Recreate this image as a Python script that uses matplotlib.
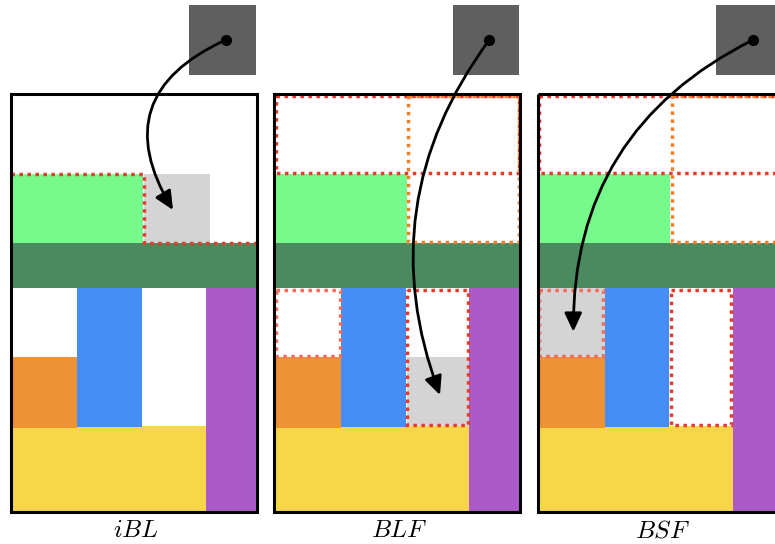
import matplotlib
matplotlib.use("Agg")
import matplotlib.pyplot as plt
from matplotlib.patches import Rectangle, FancyArrowPatch

plt.rcParams['mathtext.fontset'] = 'cm'

# --- data (bin-local units: x from bin left, y down from bin top) ---
panel_names = ["$iBL$", "$BLF$", "$BSF$"]
panel_left = [10.5, 274.2, 537.8]
bin_top = 94
bin_w, bin_h = 246, 418

# boxes already packed: yellow, orange, blue, purple, dark green, light green
box_x = [0, 0, 66.8, 195, 0, 0]
box_y = [332, 263, 194.3, 194.3, 149.3, 80]
box_w = [195, 66.8, 64.7, 51, 246, 132.5]
box_h = [86, 70.5, 138.7, 223.7, 45, 69.3]
box_colors = ["#F7D64A", "#EE9236", "#458EF6", "#AB5BC9", "#4B8A5E", "#76FA8B"]

# free spaces shown in BLF / BSF
free_x = [0, 132.5, 0, 131.5]
free_y = [0, 0, 194.3, 194.3]
free_w = [246, 113.5, 66.8, 63.5]
free_h = [80, 149.3, 68.7, 137.7]
free_colors = ["#E5392C", "#EE7F2D", "#F26B5B", "#E5392C"]

# skyline segment of iBL
sky_x = [0, 133, 133, 246]
sky_y = [80, 80, 149.3, 149.3]

# where the new item ends up in each panel
placed_x = [133, 132.5, 0]
placed_y = [80, 263, 194.3]
placed_w = [66, 62.5, 66.8]
placed_h = [69.3, 69, 68.7]

# incoming item and arrow
item_x, item_y, item_w, item_h = 178.5, -89, 66.5, 70
dot_x, dot_y = 215, -54
arrow_end_x = [162.5, 165.8, 35.5]
arrow_end_y = [116, 301, 237.7]
arrow_rad = [0.56, 0.27, 0.31]

dotted = (0, (1, 1.3))
inset = 1.5

fig = plt.figure(figsize=(7.75, 5.44), dpi=100)
ax = fig.add_axes([0, 0, 1, 1])
ax.set_xlim(0, 775)
ax.set_ylim(544, 0)
ax.axis('off')

for p, name in enumerate(panel_names):
    x0 = panel_left[p]
    y0 = bin_top

    for bx, by, bw, bh, c in zip(box_x, box_y, box_w, box_h, box_colors):
        ax.add_patch(Rectangle((x0 + bx, y0 + by), bw, bh, facecolor=c,
                               edgecolor='none', zorder=1))

    ax.add_patch(Rectangle((x0 + placed_x[p], y0 + placed_y[p]), placed_w[p], placed_h[p],
                           facecolor='#D4D4D4', edgecolor='none', zorder=2))

    if p == 0:
        ax.plot([x0 + v for v in sky_x], [y0 + v for v in sky_y], color='#E5392C',
                lw=2.5, linestyle=dotted, zorder=3)
    else:
        for fx, fy, fw, fh, c in zip(free_x, free_y, free_w, free_h, free_colors):
            ax.add_patch(Rectangle((x0 + fx + inset, y0 + fy + inset), fw - 2 * inset,
                                   fh - 2 * inset, facecolor='none', edgecolor=c,
                                   lw=2.5, linestyle=dotted, zorder=3))

    # bin outline
    ax.add_patch(Rectangle((x0, y0), bin_w, bin_h, facecolor='none', edgecolor='black',
                           lw=2.2, zorder=4))

    # incoming item
    ax.add_patch(Rectangle((x0 + item_x, y0 + item_y), item_w, item_h,
                           facecolor='#5F5F5F', edgecolor='none', zorder=5))
    ax.plot(x0 + dot_x, y0 + dot_y, 'o', color='black', ms=7, zorder=7)

    arr = FancyArrowPatch((x0 + dot_x, y0 + dot_y),
                          (x0 + arrow_end_x[p], y0 + arrow_end_y[p]),
                          connectionstyle=f"arc3,rad={arrow_rad[p]}",
                          arrowstyle='-|>,head_length=0.75,head_width=0.35',
                          mutation_scale=15, lw=2.0, color='black',
                          shrinkA=0, shrinkB=0, zorder=6)
    ax.add_patch(arr)

    ax.text(x0 + bin_w / 2 + 2, 530, name, fontsize=18, ha='center', va='center')

fig.savefig("out.png", dpi=100)
